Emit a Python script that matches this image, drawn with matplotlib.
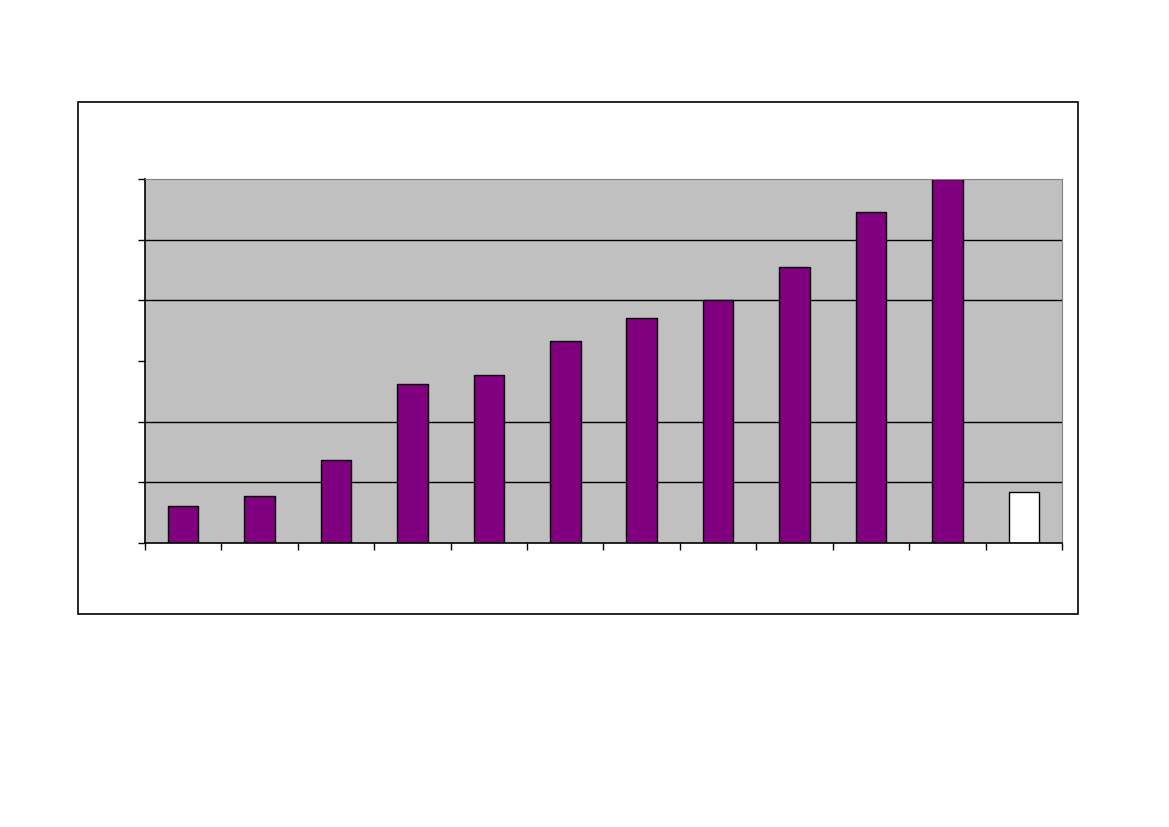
import matplotlib
matplotlib.use("Agg")
import matplotlib.pyplot as plt
from matplotlib.patches import Rectangle

# values (y axis runs 0..6, no labels shown)
positions = list(range(12))
values = [0.61, 0.77, 1.37, 2.62, 2.77, 3.33, 3.71, 4.0, 4.55, 5.46, 6.0, 0.84]
colors = ["#800080"] * 11 + ["#FFFFFF"]
grid_levels = [1, 2, 4, 5]

fig = plt.figure(figsize=(11.69, 8.27), dpi=100)

# outer chart frame
fig.patches.append(Rectangle((0.0667, 0.2576), 0.8554, 0.6191, transform=fig.transFigure,
                             fill=False, edgecolor="black", linewidth=1.2))

ax = fig.add_axes([0.1240, 0.3434, 0.7845, 0.4402])
ax.set_facecolor("#C0C0C0")
for g in grid_levels:
    ax.axhline(g, color="black", linewidth=1.0, zorder=1)
ax.bar(positions, values, width=0.4, color=colors, edgecolor="black", linewidth=1.0, zorder=2)

ax.set_xlim(-0.5, 11.5)
ax.set_ylim(0, 6)
ax.set_xticks([p - 0.5 for p in positions] + [11.5])
ax.set_yticks(range(7))
ax.set_xticklabels([])
ax.set_yticklabels([])
ax.tick_params(direction="out", length=5, width=1.0, color="black")
for side in ["top", "right"]:
    ax.spines[side].set_color("#808080")
for side in ["left", "bottom"]:
    ax.spines[side].set_color("black")
    ax.spines[side].set_linewidth(1.2)

plt.savefig("out.png", dpi=100)
